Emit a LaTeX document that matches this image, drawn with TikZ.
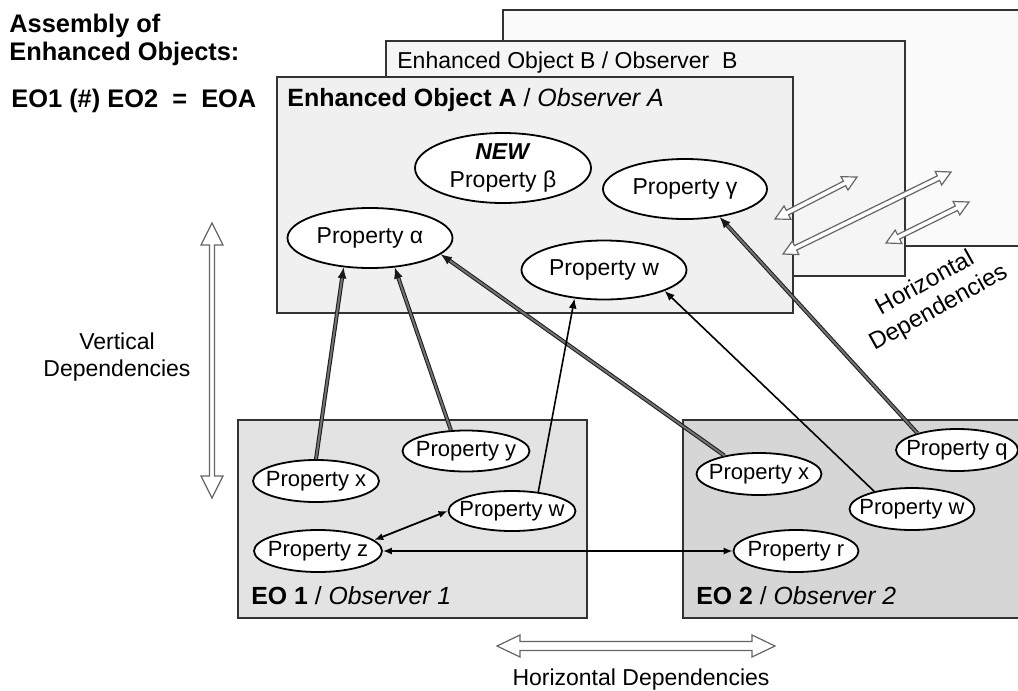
\documentclass[tikz,border=0pt]{standalone}
\usepackage{fontspec}
\setmainfont{Liberation Sans}
\usetikzlibrary{shapes.geometric,arrows.meta}
\newcommand\hollowarr[7]{%
  \pgfmathsetmacro\hoA{atan2(-(#4-#2),#3-#1)}%
  \pgfmathsetmacro\hoL{0.5*veclen(#3-#1,#4-#2)}%
  \pgfmathsetmacro\hoK{0.5*#5}%
  \pgfmathsetmacro\hoH{0.5*#6}%
  \pgfmathsetmacro\hoS{0.5*#7}%
  \pgfmathsetmacro\hoM{\hoL-\hoK}%
  \draw[hollow, shift={(#1,#2)}, rotate=\hoA] (0pt,0pt) -- (\hoK pt,\hoH pt) -- (\hoK pt,\hoS pt) -- (\hoM pt,\hoS pt) -- (\hoM pt,\hoH pt) -- (\hoL pt,0pt) -- (\hoM pt,-\hoH pt) -- (\hoM pt,-\hoS pt) -- (\hoK pt,-\hoS pt) -- (\hoK pt,-\hoH pt) -- cycle;
}
\begin{document}
\begin{tikzpicture}[x=0.5pt,y=-0.5pt,
  box/.style={draw=black!80, line width=1pt},
  prop/.style={ellipse, draw=black, line width=0.9pt, fill=white, inner xsep=-6pt, inner ysep=0pt, font=\fontsize{11}{13}\selectfont},
  bigprop/.style={prop, font=\fontsize{11.5}{14}\selectfont},
  dbl/.style={draw=black!90, double=black!55, double distance=1.0pt, line width=0.5pt, -{Latex[length=5.5pt,width=4.5pt]}},
  sgl/.style={draw=black, line width=0.8pt, -{Latex[length=5pt,width=4pt]}},
  bidir/.style={draw=black, line width=0.9pt, {Latex[length=4.5pt,width=3.6pt]}-{Latex[length=4.5pt,width=3.6pt]}},
  hollow/.style={draw=black!60, line width=0.6pt, fill=white, line join=miter},
  lbl/.style={anchor=base west, inner sep=0pt},
]
\useasboundingbox (0,0) rectangle (1018,691);
\clip (0,0) rectangle (1018,691);
\fill[white] (0,0) rectangle (1018,691);

% boxes
\draw[box, fill=black!2] (503,10) rectangle (1030,246);
\draw[box, fill=black!4] (386,41) rectangle (905,276);
\draw[box, fill=black!6] (277,77) rectangle (793,313);
\draw[box, fill=black!11] (238,420) rectangle (587,618);
\draw[box, fill=black!16] (683,420) rectangle (1030,618);

% labels
\node[lbl, font=\fontsize{11.5}{13}\selectfont] (labB) at (397,68) {Enhanced Object B / Observer\ \ B};
\node[lbl, font=\fontsize{12.5}{14}\selectfont] (labA) at (287,106) {\textbf{Enhanced Object A} / \textit{Observer A}};
\node[lbl, font=\fontsize{12.4}{14}\selectfont] (lab1) at (251,604) {\textbf{EO 1} / \textit{Observer 1}};
\node[lbl, font=\fontsize{12.4}{14}\selectfont] (lab2) at (696,604) {\textbf{EO 2} / \textit{Observer 2}};

\node[lbl, font=\bfseries\fontsize{12.7}{14}\selectfont] (t1) at (9,32) {Assembly of};
\node[lbl, font=\bfseries\fontsize{12.7}{14}\selectfont] (t2) at (9,60) {Enhanced Objects:};
\node[lbl, font=\bfseries\fontsize{12.7}{14}\selectfont] (t3) at (11,107) {EO1 (\#) EO2 \ = \ EOA};

% properties of A
\node[bigprop, minimum width=88pt, minimum height=35pt, align=center] (eb) at (503,168) {\textbf{\textit{NEW}}\\Property β};
\node[bigprop, minimum width=82pt, minimum height=30pt] (eg) at (685,189) {Property γ};
\node[bigprop, minimum width=82.5pt, minimum height=30pt] (ea) at (370,238) {Property α};
\node[bigprop, minimum width=82.5pt, minimum height=29.5pt] (ew) at (604,270) {Property w};

% properties of EO1
\node[prop, minimum width=63pt, minimum height=21pt] (e1x) at (316,481) {Property x};
\node[prop, minimum width=63.5pt, minimum height=20.5pt] (e1y) at (466,451) {Property y};
\node[prop, minimum width=63.5pt, minimum height=20pt] (e1w) at (512,511) {Property w};
\node[prop, minimum width=64pt, minimum height=21pt] (e1z) at (318,551) {Property z};

% properties of EO2
\node[prop, minimum width=62.5pt, minimum height=21pt] (e2x) at (759,474) {Property x};
\node[prop, minimum width=61pt, minimum height=21pt] (e2q) at (957,450) {Property q};
\node[prop, minimum width=62.5pt, minimum height=21pt] (e2w) at (912,509) {Property w};
\node[prop, minimum width=62.5pt, minimum height=21pt] (e2r) at (796,551) {Property r};

% dependencies
\draw[dbl] (e1x.90) -- (ea.228);
\draw[dbl] (e1y.126) -- (ea.310);
\draw[dbl] (e2x.152) -- (ea.347);
\draw[dbl] (e2q.157) -- (eg.321);
\draw[sgl] (e1w.36) -- (ew.224);
\draw[sgl] (e2w.155) -- (ew.341);
\draw[bidir] (e1z.11) -- (e1w.180);
\draw[bidir] (e1z.east) -- (e2r.west);

% hollow arrows
\hollowarr{212}{223}{212}{498}{22}{11}{2.5}
\hollowarr{497}{646}{775}{646}{23}{11}{4.5}
\hollowarr{775}{219}{857}{177}{14}{7.5}{2.5}
\hollowarr{783}{254}{951}{172}{14}{7.5}{2.5}
\hollowarr{886}{243}{969}{202}{14}{7.5}{2.5}

% dependency labels
\node[font=\fontsize{11.5}{13.5}\selectfont, align=center] (vdep) at (117,357) {Vertical\\Dependencies};
\node[font=\fontsize{12}{14}\selectfont, align=center, rotate=29] (hdep2) at (932,296) {Horizontal\\Dependencies};
\node[font=\fontsize{11.5}{13.5}\selectfont, anchor=base] (hdep) at (641,685) {Horizontal Dependencies};
\end{tikzpicture}
\end{document}
